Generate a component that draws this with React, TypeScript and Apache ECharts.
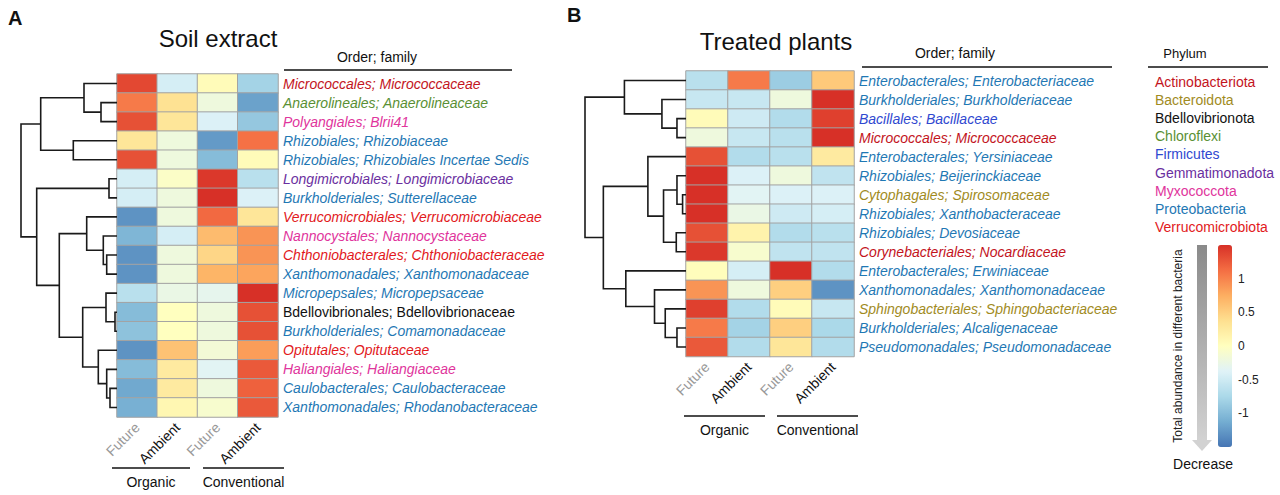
import React, { useEffect, useRef } from "react";
import * as echarts from "echarts";

const FONT = "'Liberation Sans', Arial, sans-serif";

// ---------- Phyla ----------
const phylumNames = [
  "Actinobacteriota", "Bacteroidota", "Bdellovibrionota", "Chloroflexi", "Firmicutes",
  "Gemmatimonadota", "Myxococcota", "Proteobacteria", "Verrucomicrobiota",
];
const phylumColors = [
  "#c3141d", "#a18b1e", "#111111", "#5a9034", "#2f48d0",
  "#6a2fa0", "#e0359c", "#1f78b4", "#e2191c",
];

// ---------- Columns ----------
const columnLabels = ["Future", "Ambient", "Future", "Ambient"];
const groupLabels = ["Organic", "Conventional"];

// ---------- Panel A: Soil extract ----------
const labelsA = [
  "Micrococcales; Micrococcaceae",
  "Anaerolineales; Anaerolineaceae",
  "Polyangiales; Blrii41",
  "Rhizobiales; Rhizobiaceae",
  "Rhizobiales; Rhizobiales Incertae Sedis",
  "Longimicrobiales; Longimicrobiaceae",
  "Burkholderiales; Sutterellaceae",
  "Verrucomicrobiales; Verrucomicrobiaceae",
  "Nannocystales; Nannocystaceae",
  "Chthoniobacterales; Chthoniobacteraceae",
  "Xanthomonadales; Xanthomonadaceae",
  "Micropepsales; Micropepsaceae",
  "Bdellovibrionales; Bdellovibrionaceae",
  "Burkholderiales; Comamonadaceae",
  "Opitutales; Opitutaceae",
  "Haliangiales; Haliangiaceae",
  "Caulobacterales; Caulobacteraceae",
  "Xanthomonadales; Rhodanobacteraceae",
];
const phylumA = [0, 3, 6, 7, 7, 5, 7, 8, 6, 8, 7, 7, 2, 7, 8, 6, 7, 7];
const aOrgFuture = [1.35, 1.05, 1.3, 0.3, 1.3, -0.45, -0.45, -1.3, -1.05, -1.3, -1.3, -0.65, -1.0, -0.95, -1.3, -1.0, -1.15, -1.1];
const aOrgAmbient = [-0.45, 0.35, 0.3, -0.2, -0.2, -0.05, -0.2, -0.2, -0.45, -0.2, -0.2, -0.25, 0.0, 0.0, 0.6, 0.25, 0.25, 0.1];
const aConvFuture = [0.05, -0.2, -0.4, -1.25, -1.0, 1.45, 1.5, 1.15, 0.65, 0.45, 0.7, -0.3, -0.2, -0.2, -0.15, -0.35, -0.2, -0.1];
const aConvAmbient = [-0.8, -1.2, -0.9, 1.1, 0.05, -0.65, -0.4, 0.3, 0.9, 0.9, 0.8, 1.5, 1.3, 1.3, 0.85, 1.25, 1.2, 1.25];
// dendrogram merges: [childA, childB, height]; child < n is a leaf, else node (child - n)
const mergesA = [
  [1, 2, 16], [0, 18, 33], [3, 4, 43.7], [19, 20, 76.3], [5, 6, 8],
  [9, 10, 10.3], [8, 23, 13.7], [7, 24, 30.3], [12, 13, 2], [11, 26, 11],
  [16, 17, 7], [15, 28, 10.3], [14, 29, 18.7], [27, 30, 34.3], [25, 31, 57.7],
  [22, 32, 80.3], [21, 33, 96],
];

// ---------- Panel B: Treated plants ----------
const labelsB = [
  "Enterobacterales; Enterobacteriaceae",
  "Burkholderiales; Burkholderiaceae",
  "Bacillales; Bacillaceae",
  "Micrococcales; Micrococcaceae",
  "Enterobacterales; Yersiniaceae",
  "Rhizobiales; Beijerinckiaceae",
  "Cytophagales; Spirosomaceae",
  "Rhizobiales; Xanthobacteraceae",
  "Rhizobiales; Devosiaceae",
  "Corynebacteriales; Nocardiaceae",
  "Enterobacterales; Erwiniaceae",
  "Xanthomonadales; Xanthomonadaceae",
  "Sphingobacteriales; Sphingobacteriaceae",
  "Burkholderiales; Alcaligenaceae",
  "Pseudomonadales; Pseudomonadaceae",
];
const phylumB = [7, 7, 4, 0, 7, 7, 1, 7, 7, 0, 7, 7, 1, 7, 7];
const bOrgFuture = [-0.65, -0.55, 0.05, -0.2, 1.3, 1.5, 1.5, 1.5, 1.3, 1.45, 0.02, 0.9, 1.4, 1.05, 1.25];
const bOrgAmbient = [1.05, -0.55, -0.5, -0.55, -0.7, -0.4, -0.35, -0.25, 0.15, -0.1, -0.45, -0.2, -0.7, -0.8, -0.7];
const bConvFuture = [-0.85, -0.2, -0.7, -0.65, -0.65, -0.2, -0.4, -0.5, -0.7, -0.6, 1.5, 0.5, 0.05, 0.5, 0.3];
const bConvAmbient = [0.55, 1.5, 1.4, 1.5, 0.25, -0.6, -0.4, -0.45, -0.65, -0.6, -0.7, -1.3, -0.55, -0.75, -0.7];
const mergesB = [
  [2, 3, 9], [1, 15, 24], [0, 16, 61.4], [6, 7, 3.4], [5, 18, 9],
  [8, 9, 9.7], [19, 20, 22.4], [4, 21, 38], [13, 14, 9], [12, 23, 20.7],
  [11, 24, 31.4], [10, 25, 60], [22, 26, 82.4], [17, 27, 100.7],
];

// ---------- Color scale ----------
const scaleMin = -1.5;
const scaleMax = 1.5;
const scaleColors = ["#4575b4", "#74add1", "#abd9e9", "#e0f3f8", "#ffffbf", "#fee090", "#fdae61", "#f46d43", "#d73027"];

function heatData(cols: number[][]) {
  const out: number[][] = [];
  for (let c = 0; c < cols.length; c++) {
    for (let r = 0; r < cols[c].length; r++) out.push([c, r, cols[c][r]]);
  }
  return out;
}

function dendroData(merges: number[][], n: number) {
  const pos: number[][] = [];
  for (let i = 0; i < n; i++) pos[i] = [i, 0];
  const segs: number[][] = [];
  merges.forEach(([a, b, h], k) => {
    const pa = pos[a];
    const pb = pos[b];
    pos[n + k] = [(pa[0] + pb[0]) / 2, h];
    segs.push([pa[0], pa[1], pb[0], pb[1], h]);
  });
  return segs;
}

const renderDendro = (_params: any, api: any) => {
  const ya = api.value(0), ha = api.value(1), yb = api.value(2), hb = api.value(3), h = api.value(4);
  const pts = [api.coord([ha, ya]), api.coord([h, ya]), api.coord([h, yb]), api.coord([hb, yb])];
  return {
    type: "polyline",
    shape: { points: pts },
    style: { stroke: "#1a1a1a", lineWidth: 1.6, fill: null },
  };
};

const richPhyla: any = {};
phylumNames.forEach((_, i) => {
  richPhyla["p" + i] = {
    color: phylumColors[i],
    fontStyle: i === 2 ? "normal" : "italic",
    fontSize: 14,
    fontFamily: FONT,
  };
});

const colRich = {
  f: { color: "#999999", fontSize: 14, fontFamily: FONT },
  a: { color: "#111111", fontSize: 14, fontFamily: FONT },
};

function catX(gridIndex: number) {
  return {
    type: "category",
    gridIndex,
    data: columnLabels,
    position: "bottom",
    axisLine: { show: false },
    axisTick: { show: false },
    splitLine: { show: false },
    axisLabel: {
      interval: 0,
      rotate: 45,
      margin: 8,
      formatter: (v: string) => (v === "Future" ? `{f|${v}}` : `{a|${v}}`),
      rich: colRich,
    },
  };
}

function catY(gridIndex: number, labels: string[], phyla: number[]) {
  return {
    type: "category",
    gridIndex,
    data: labels,
    inverse: true,
    position: "right",
    axisLine: { show: false },
    axisTick: { show: false },
    splitLine: { show: false },
    axisLabel: {
      interval: 0,
      margin: 5,
      formatter: (v: string, i: number) => `{p${phyla[i]}|${v}}`,
      rich: richPhyla,
    },
  };
}

function groupGraphics(x0: number, x1: number, x2: number, x3: number, yLine: number) {
  return [
    { type: "line", shape: { x1: x0, y1: yLine, x2: x1, y2: yLine }, style: { stroke: "#111", lineWidth: 1.5 } },
    { type: "line", shape: { x1: x2, y1: yLine, x2: x3, y2: yLine }, style: { stroke: "#111", lineWidth: 1.5 } },
    { type: "text", x: (x0 + x1) / 2, y: yLine + 14, style: { text: groupLabels[0], fill: "#111", font: `14px ${FONT}`, align: "center", verticalAlign: "middle" } },
    { type: "text", x: (x2 + x3) / 2, y: yLine + 14, style: { text: groupLabels[1], fill: "#111", font: `14px ${FONT}`, align: "center", verticalAlign: "middle" } },
  ];
}

export default function App() {
  const ref = useRef<HTMLDivElement>(null);
  useEffect(() => {
    if (!ref.current) return;
    const chart = echarts.init(ref.current, undefined, { renderer: "svg" });

    const legendItems = phylumNames.map((name, i) => ({
      type: "text",
      x: 1155,
      y: 82 + i * 18.1,
      style: { text: name, fill: phylumColors[i], font: `14px ${FONT}`, verticalAlign: "middle" },
    }));

    const option: any = {
      animation: false,
      textStyle: { fontFamily: FONT },
      grid: [
        { left: 117, top: 74, width: 161, height: 343 },
        { left: 21, top: 74, width: 96, height: 343 },
        { left: 686, top: 71, width: 168, height: 285.5 },
        { left: 585, top: 71, width: 101, height: 285.5 },
        { left: 1218, top: 245, width: 14, height: 202 },
      ],
      xAxis: [
        catX(0),
        { type: "value", gridIndex: 1, min: 0, max: 96, inverse: true, show: false },
        catX(2),
        { type: "value", gridIndex: 3, min: 0, max: 100.7, inverse: true, show: false },
        { type: "value", gridIndex: 4, min: 0, max: 1, show: false },
      ],
      yAxis: [
        catY(0, labelsA, phylumA),
        { type: "value", gridIndex: 1, min: -0.5, max: labelsA.length - 0.5, inverse: true, show: false },
        catY(2, labelsB, phylumB),
        { type: "value", gridIndex: 3, min: -0.5, max: labelsB.length - 0.5, inverse: true, show: false },
        {
          type: "value",
          gridIndex: 4,
          min: scaleMin,
          max: scaleMax,
          interval: 0.5,
          position: "right",
          axisLine: { show: false },
          axisTick: { show: false },
          splitLine: { show: false },
          axisLabel: {
            margin: 6,
            color: "#222",
            fontSize: 12,
            formatter: (v: number) => (Math.abs(v) > 1.25 ? "" : String(v)),
          },
        },
      ],
      visualMap: {
        type: "continuous",
        min: scaleMin,
        max: scaleMax,
        seriesIndex: [0, 2],
        left: 1218,
        top: 245,
        itemWidth: 14,
        itemHeight: 202,
        padding: 0,
        calculable: false,
        inRange: { color: scaleColors },
        text: null,
      },
      series: [
        {
          type: "heatmap",
          xAxisIndex: 0,
          yAxisIndex: 0,
          data: heatData([aOrgFuture, aOrgAmbient, aConvFuture, aConvAmbient]),
          itemStyle: { borderColor: "#a3a3a3", borderWidth: 1 },
        },
        {
          type: "custom",
          xAxisIndex: 1,
          yAxisIndex: 1,
          renderItem: renderDendro,
          encode: { x: 4, y: 0 },
          data: dendroData(mergesA, labelsA.length),
          clip: false,
        },
        {
          type: "heatmap",
          xAxisIndex: 2,
          yAxisIndex: 2,
          data: heatData([bOrgFuture, bOrgAmbient, bConvFuture, bConvAmbient]),
          itemStyle: { borderColor: "#a3a3a3", borderWidth: 1 },
        },
        {
          type: "custom",
          xAxisIndex: 3,
          yAxisIndex: 3,
          renderItem: renderDendro,
          encode: { x: 4, y: 0 },
          data: dendroData(mergesB, labelsB.length),
          clip: false,
        },
      ],
      graphic: [
        { type: "text", x: 8, y: 18, style: { text: "A", fill: "#111", font: `bold 20px ${FONT}`, verticalAlign: "middle" } },
        { type: "text", x: 567, y: 15, style: { text: "B", fill: "#111", font: `bold 20px ${FONT}`, verticalAlign: "middle" } },
        { type: "text", x: 218, y: 38, style: { text: "Soil extract", fill: "#111", font: `24px ${FONT}`, align: "center", verticalAlign: "middle" } },
        { type: "text", x: 776, y: 41, style: { text: "Treated plants", fill: "#111", font: `24px ${FONT}`, align: "center", verticalAlign: "middle" } },
        { type: "text", x: 377, y: 57, style: { text: "Order; family", fill: "#111", font: `14px ${FONT}`, align: "center", verticalAlign: "middle" } },
        { type: "line", shape: { x1: 284, y1: 70, x2: 512, y2: 70 }, style: { stroke: "#111", lineWidth: 1.5 } },
        { type: "text", x: 955, y: 53, style: { text: "Order; family", fill: "#111", font: `14px ${FONT}`, align: "center", verticalAlign: "middle" } },
        { type: "line", shape: { x1: 862, y1: 67, x2: 1112, y2: 67 }, style: { stroke: "#111", lineWidth: 1.5 } },
        { type: "text", x: 1185, y: 53, style: { text: "Phylum", fill: "#111", font: `13px ${FONT}`, align: "center", verticalAlign: "middle" } },
        { type: "line", shape: { x1: 1148, y1: 67, x2: 1268, y2: 67 }, style: { stroke: "#111", lineWidth: 1.5 } },
        ...legendItems,
        ...groupGraphics(112, 190, 203, 284, 468),
        ...groupGraphics(684, 765, 777, 858, 416),
        {
          type: "rect",
          shape: { x: 1197, y: 245, width: 10, height: 196 },
          style: {
            fill: new echarts.graphic.LinearGradient(0, 0, 0, 1, [
              { offset: 0, color: "#8a8a8a" },
              { offset: 1, color: "#d2d2d2" },
            ]),
          },
        },
        { type: "polygon", shape: { points: [[1192, 440], [1212, 440], [1202, 451]] }, style: { fill: "#d2d2d2" } },
        {
          type: "text",
          x: 1178,
          y: 346,
          rotation: Math.PI / 2,
          style: { text: "Total abundance in different bacteria", fill: "#222", font: `12px ${FONT}`, align: "center", verticalAlign: "middle" },
        },
        { type: "text", x: 1203, y: 464, style: { text: "Decrease", fill: "#111", font: `14px ${FONT}`, align: "center", verticalAlign: "middle" } },
      ],
    };
    chart.setOption(option);
    return () => chart.dispose();
  }, []);
  return <div ref={ref} style={{ position: "fixed", left: 0, top: 0, width: 1280, height: 495, background: "#fff" }} />;
}
